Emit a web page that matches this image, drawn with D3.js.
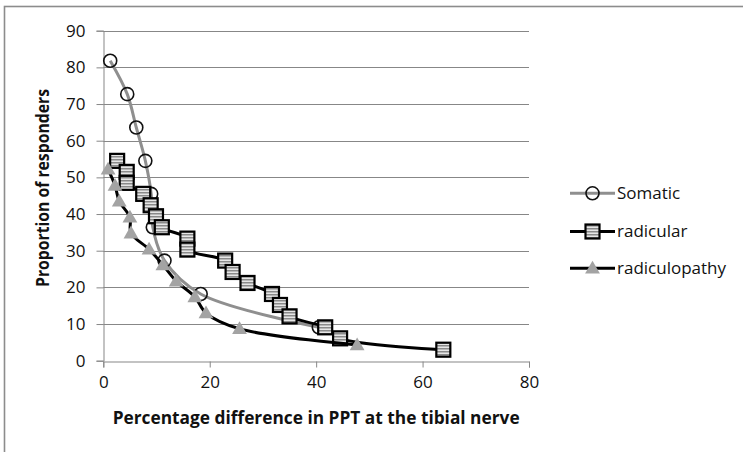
<!DOCTYPE html>
<html>
<head>
<meta charset="utf-8">
<script src="https://cdn.jsdelivr.net/npm/d3@7"></script>
<style>
  html, body { margin: 0; padding: 0; background: #fff; }
  svg { display: block; }
  text { font-family: "Open Sans", "Liberation Sans", sans-serif; fill: #111; }
</style>
</head>
<body>
<svg id="chart" width="743" height="452"></svg>
<script>
// ---- data ----
const seriesNames = ["Somatic", "radicular", "radiculopathy"];

const somaticX = [1.3, 4.5, 6.2, 7.9, 9.0, 9.3, 11.5, 18.3, 40.5];
const somaticY = [81.8, 72.7, 63.6, 54.5, 45.5, 36.4, 27.3, 18.2, 9.1];

const radicularX = [2.6, 4.4, 4.4, 7.5, 8.9, 9.9, 11.0, 15.8, 15.8, 22.9, 24.3, 27.1, 31.7, 33.2, 35.0, 41.7, 44.5, 63.9];
const radicularY = [54.5, 51.5, 48.5, 45.5, 42.4, 39.4, 36.4, 33.3, 30.3, 27.3, 24.2, 21.2, 18.2, 15.2, 12.1, 9.1, 6.1, 3.0];

const radiculopathyX = [0.9, 2.2, 3.0, 5.0, 5.2, 8.6, 11.2, 13.7, 17.2, 19.3, 25.6, 47.7];
const radiculopathyY = [52.2, 47.8, 43.5, 39.1, 34.8, 30.4, 26.1, 21.7, 17.4, 13.0, 8.7, 4.3];

const xTicks = [0, 20, 40, 60, 80];
const yTicks = [0, 10, 20, 30, 40, 50, 60, 70, 80, 90];

const xTitle = "Percentage difference in PPT at the tibial nerve";
const yTitle = "Proportion  of responders";

// ---- layout ----
const svg = d3.select("#chart");
const x = d3.scaleLinear().domain([0, 80]).range([103.3, 529]);
const y = d3.scaleLinear().domain([0, 90]).range([360.7, 30.7]);
const axisColor = "#878787";

// outer chart border
svg.append("rect").attr("x", 4.5).attr("y", 6.5).attr("width", 760).attr("height", 460)
  .attr("fill", "none").attr("stroke", "#8c8c8c").attr("stroke-width", 1.6);

// pattern for squares
const defs = svg.append("defs");
const pat = defs.append("pattern").attr("id", "stripes").attr("patternUnits", "userSpaceOnUse")
  .attr("width", 4).attr("height", 3);
pat.append("rect").attr("width", 4).attr("height", 3).attr("fill", "#e6e6e6");
pat.append("rect").attr("width", 4).attr("height", 1.5).attr("fill", "#8a8a8a");

// gridlines
svg.append("g").selectAll("line").data(yTicks.filter(d => d > 0)).join("line")
  .attr("x1", x(0)).attr("x2", x(80))
  .attr("y1", d => Math.round(y(d)) + 0.5).attr("y2", d => Math.round(y(d)) + 0.5)
  .attr("stroke", axisColor).attr("stroke-width", 1);

// y axis
const yAxis = d3.axisLeft(y).tickValues(yTicks).tickSize(7).tickPadding(11);
const gy = svg.append("g").attr("transform", `translate(${Math.round(x(0)) + 0.5},0)`).call(yAxis);
gy.select(".domain").attr("stroke", axisColor);
gy.selectAll(".tick line").attr("stroke", axisColor);
gy.selectAll(".tick text").attr("font-size", 17).attr("font-family", "Open Sans").attr("fill", "#111");

// x axis
const xAxis = d3.axisBottom(x).tickValues(xTicks).tickSize(6).tickPadding(8);
const gx = svg.append("g").attr("transform", `translate(0,${Math.round(y(0)) + 0.5})`).call(xAxis);
gx.select(".domain").attr("stroke", axisColor);
gx.selectAll(".tick line").attr("stroke", axisColor);
gx.selectAll(".tick text").attr("font-size", 17).attr("font-family", "Open Sans").attr("fill", "#111");

// titles
svg.append("text").attr("x", (x(0) + x(80)) / 2).attr("y", 423.5)
  .attr("text-anchor", "middle").attr("font-size", 17).attr("font-weight", "bold")
  .attr("textLength", 407).attr("lengthAdjust", "spacingAndGlyphs").text(xTitle);
svg.append("text").attr("transform", `translate(49,188) rotate(-90)`)
  .attr("text-anchor", "middle").attr("font-size", 17).attr("font-weight", "bold")
  .attr("textLength", 198).attr("lengthAdjust", "spacingAndGlyphs").text(yTitle);

// series
const line = d3.line().x(d => x(d[0])).y(d => y(d[1])).curve(d3.curveCatmullRom.alpha(0.5));
const som = somaticX.map((v, i) => [v, somaticY[i]]);
const rad = radicularX.map((v, i) => [v, radicularY[i]]);
const rpa = radiculopathyX.map((v, i) => [v, radiculopathyY[i]]);

const triPath = d3.symbol().type(d3.symbolTriangle).size(95)();

function circleMarker(g, cx, cy) {
  g.append("circle").attr("cx", cx).attr("cy", cy).attr("r", 6.5)
    .attr("fill", "none").attr("stroke", "#111").attr("stroke-width", 1.6);
}
function squareMarker(g, cx, cy) {
  g.append("rect").attr("x", cx - 7).attr("y", cy - 7).attr("width", 14).attr("height", 14)
    .attr("fill", "url(#stripes)").attr("stroke", "#000").attr("stroke-width", 2.2);
}
function triMarker(g, cx, cy) {
  g.append("path").attr("d", triPath).attr("transform", `translate(${cx},${cy + 1})`)
    .attr("fill", "#a3a3a3");
}

// Somatic
svg.append("path").datum(som).attr("d", line).attr("fill", "none")
  .attr("stroke", "#8f8f8f").attr("stroke-width", 3);
const gs = svg.append("g");
som.forEach(d => circleMarker(gs, x(d[0]), y(d[1])));

// radicular
svg.append("path").datum(rad).attr("d", line).attr("fill", "none")
  .attr("stroke", "#000").attr("stroke-width", 3);
const gr = svg.append("g");
rad.forEach(d => squareMarker(gr, x(d[0]), y(d[1])));

// radiculopathy
svg.append("path").datum(rpa).attr("d", line).attr("fill", "none")
  .attr("stroke", "#000").attr("stroke-width", 3);
const gp = svg.append("g");
rpa.forEach(d => triMarker(gp, x(d[0]), y(d[1])));

// legend
const legY = [193.3, 231.5, 268.3];
const legStroke = ["#8f8f8f", "#000", "#000"];
const markers = [circleMarker, squareMarker, triMarker];
seriesNames.forEach((name, i) => {
  const g = svg.append("g");
  g.append("line").attr("x1", 570).attr("x2", 615).attr("y1", legY[i]).attr("y2", legY[i])
    .attr("stroke", legStroke[i]).attr("stroke-width", 3);
  markers[i](g, 592.5, legY[i]);
  g.append("text").attr("x", 617).attr("y", legY[i]).attr("dy", "0.35em")
    .attr("font-size", 17).text(name);
});
</script>
</body>
</html>
